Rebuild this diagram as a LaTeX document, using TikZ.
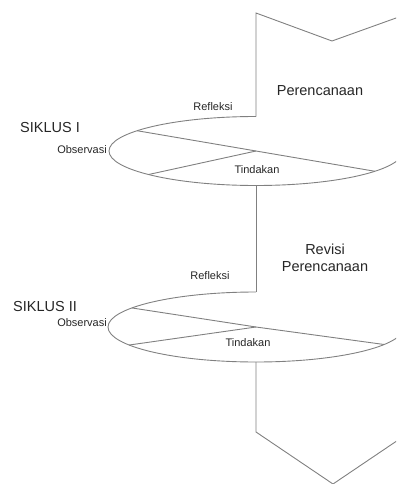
\documentclass[tikz,border=0pt]{standalone}
\usepackage{fontspec}
\setmainfont{Liberation Sans}
\usetikzlibrary{calc}

\tikzset{
    garis/.style={draw=black!50, line width=0.9pt},
    besar/.style={font=\fontsize{14.5}{17}\selectfont, text=black!85, inner sep=0pt},
    kecil/.style={font=\fontsize{11}{13}\selectfont, text=black!85, inner sep=0pt}
}

\begin{document}
\begin{tikzpicture}[x=1pt, y=-1pt]
        \useasboundingbox (0,0) rectangle (396,484);
        \clip (0,0) rectangle (396,484);

        % titik pusat kedua siklus
        \coordinate (P1) at (256,151);
        \coordinate (P2) at (256,327);

        % pita perencanaan
        \coordinate (atasKiri) at (256,13);
        \coordinate (atasTengah) at (332,41);
        \coordinate (atasKanan) at (410,13);
        \coordinate (bawahKiri) at (256,432);
        \coordinate (bawahTengah) at (333,484);
        \coordinate (bawahKanan) at (410,432);

        \draw[garis] (atasKanan) -- (atasTengah) -- (atasKiri) -- ($(P1)+(0,-34.5)$);
        \draw[garis] ($(P1)+(0,34.5)$) -- ($(P2)+(0,-35)$);
        \draw[garis] ($(P2)+(0,35)$) -- (bawahKiri) -- (bawahTengah) -- (bawahKanan);

        % siklus I
        \draw[garis] ($(P1)+(0,-34.5)$) arc [start angle=-90, end angle=-360, x radius=147, y radius=34.5];
        \draw[garis] (P1) -- ($(P1)+(-144:147 and 34.5)$);
        \draw[garis] (P1) -- ($(P1)+(-223:147 and 34.5)$);
        \draw[garis] (P1) -- ($(P1)+(36:147 and 34.5)$);

        % siklus II
        \draw[garis] ($(P2)+(0,-35)$) arc [start angle=-90, end angle=-360, x radius=148, y radius=35];
        \draw[garis] (P2) -- ($(P2)+(-147:148 and 35)$);
        \draw[garis] (P2) -- ($(P2)+(-211:148 and 35)$);
        \draw[garis] (P2) -- ($(P2)+(30:148 and 35)$);

        \node[besar] at (50,128) (siklus1) {SIKLUS I};
        \node[kecil, anchor=east] at (107,150) (obs1) {Observasi};
        \node[kecil] at (213,107) (ref1) {Refleksi};
        \node[kecil] at (257,170) (tin1) {Tindakan};
        \node[besar] at (320,91) (ren) {Perencanaan};

        \node[besar] at (45,307) (siklus2) {SIKLUS II};
        \node[kecil, anchor=east] at (107,323) (obs2) {Observasi};
        \node[kecil] at (210,276) (ref2) {Refleksi};
        \node[kecil] at (248,343) (tin2) {Tindakan};
        \node[besar, align=center] at (325,258) (revisi) {Revisi\\Perencanaan};

    \end{tikzpicture}
\end{document}
